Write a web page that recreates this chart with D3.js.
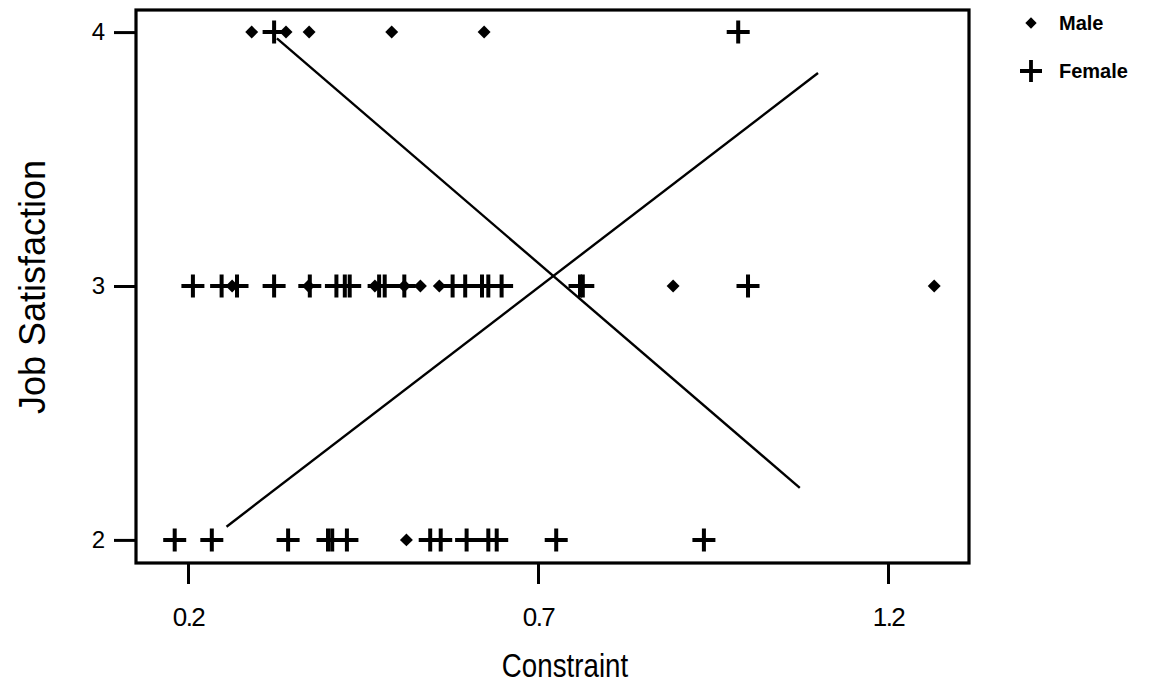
<!DOCTYPE html>
<html>
<head>
<meta charset="utf-8">
<script src="https://cdn.jsdelivr.net/npm/d3@7"></script>
<style>
  body { margin: 0; background: #fff; }
  svg { display: block; }
</style>
</head>
<body>
<div id="container"></div>
<script>
// data
const maleX   = [0.291, 0.340, 0.373, 0.491, 0.623,
                 0.263, 0.372, 0.467, 0.509, 0.532, 0.559, 0.893, 1.266,
                 0.512];
const maleY   = [4, 4, 4, 4, 4,
                 3, 3, 3, 3, 3, 3, 3, 3,
                 2];
const femaleX = [0.323, 0.986,
                 0.207, 0.248, 0.270, 0.323, 0.374, 0.412, 0.424, 0.431, 0.473, 0.481, 0.509,
                 0.578, 0.596, 0.620, 0.629, 0.648, 0.760, 0.764, 1.000,
                 0.181, 0.234, 0.343, 0.400, 0.406, 0.427, 0.546, 0.561, 0.598, 0.629, 0.641, 0.726, 0.937];
const femaleY = [4, 4,
                 3, 3, 3, 3, 3, 3, 3, 3, 3, 3, 3,
                 3, 3, 3, 3, 3, 3, 3, 3,
                 2, 2, 2, 2, 2, 2, 2, 2, 2, 2, 2, 2, 2];
// fitted lines (end points)
const fitUpX   = [0.255, 1.100];
const fitUpY   = [2.052, 3.839];
const fitDownX = [0.327, 1.074];
const fitDownY = [3.975, 2.205];

const xTicks = [0.2, 0.7, 1.2];
const yTicks = [2, 3, 4];
const legendLabels = ["Male", "Female"];

const W = 1154, H = 683;
const box = { left: 136, top: 10, right: 969, bottom: 563 };
const font = "Liberation Sans, Arial, sans-serif";

const x = d3.scaleLinear().domain([0.1257, 1.3157]).range([box.left, box.right]);
const y = d3.scaleLinear().domain([1.909, 4.087]).range([box.bottom, box.top]);

const svg = d3.select("#container").append("svg")
  .attr("width", W).attr("height", H);

// frame
svg.append("rect")
  .attr("x", box.left).attr("y", box.top)
  .attr("width", box.right - box.left).attr("height", box.bottom - box.top)
  .attr("fill", "none").attr("stroke", "#000").attr("stroke-width", 3.2);

// axes
const xAxis = svg.append("g")
  .attr("transform", "translate(0," + box.bottom + ")")
  .call(d3.axisBottom(x).tickValues(xTicks).tickSize(21).tickPadding(0).tickFormat(d3.format(".1f")));
xAxis.select(".domain").remove();
xAxis.selectAll(".tick line").attr("stroke-width", 3);
xAxis.selectAll(".tick text")
  .attr("y", 63).attr("dy", null)
  .attr("font-family", font)
  .attr("font-size", 26)
  .attr("letter-spacing", -1.5)
  .attr("fill", "#000");

const yAxis = svg.append("g")
  .attr("transform", "translate(" + box.left + ",0)")
  .call(d3.axisLeft(y).tickValues(yTicks).tickSize(22).tickPadding(9).tickFormat(d3.format("d")));
yAxis.select(".domain").remove();
yAxis.selectAll(".tick line").attr("stroke-width", 3);
yAxis.selectAll(".tick text")
  .attr("font-family", font)
  .attr("font-size", 24).attr("fill", "#000");

// axis titles
svg.append("text")
  .attr("transform", "translate(565,677) scale(0.84,1)")
  .attr("text-anchor", "middle")
  .attr("font-family", font)
  .attr("font-size", 33)
  .text("Constraint");

svg.append("text")
  .attr("transform", "translate(45," + 287 + ") rotate(-90)")
  .attr("text-anchor", "middle")
  .attr("font-family", font)
  .attr("font-size", 36)
  .text("Job Satisfaction");

// fitted lines
const line = d3.line().x(d => x(d[0])).y(d => y(d[1]));
[[fitUpX, fitUpY], [fitDownX, fitDownY]].forEach(function(f) {
  svg.append("path")
    .datum(d3.zip(f[0], f[1]))
    .attr("d", line)
    .attr("fill", "none").attr("stroke", "#000").attr("stroke-width", 2.4);
});

// markers
const diamond = d3.symbol().type(d3.symbolSquare).size(84);
const plusPath = "M-11.5,0H11.5M0,-11.5V11.5";

svg.append("g").selectAll("path")
  .data(d3.zip(maleX, maleY))
  .enter().append("path")
  .attr("d", diamond)
  .attr("transform", d => "translate(" + x(d[0]) + "," + y(d[1]) + ") rotate(45)")
  .attr("fill", "#000");

svg.append("g").selectAll("path")
  .data(d3.zip(femaleX, femaleY))
  .enter().append("path")
  .attr("d", plusPath)
  .attr("transform", d => "translate(" + x(d[0]) + "," + y(d[1]) + ")")
  .attr("fill", "none").attr("stroke", "#000").attr("stroke-width", 4);

// legend
const legend = svg.append("g").attr("transform", "translate(1031,0)");
legend.append("path")
  .attr("d", d3.symbol().type(d3.symbolSquare).size(64))
  .attr("transform", "translate(0,23) rotate(45)")
  .attr("fill", "#000");
legend.append("path")
  .attr("d", "M-11,0H11M0,-11V11")
  .attr("transform", "translate(0,71)")
  .attr("fill", "none").attr("stroke", "#000").attr("stroke-width", 3.8);
legend.selectAll("text")
  .data(legendLabels)
  .enter().append("text")
  .attr("x", 28).attr("y", (d, i) => 30 + i * 48)
  .attr("font-family", font)
  .attr("font-weight", "bold")
  .attr("font-size", 20)
  .text(d => d);
</script>
</body>
</html>
